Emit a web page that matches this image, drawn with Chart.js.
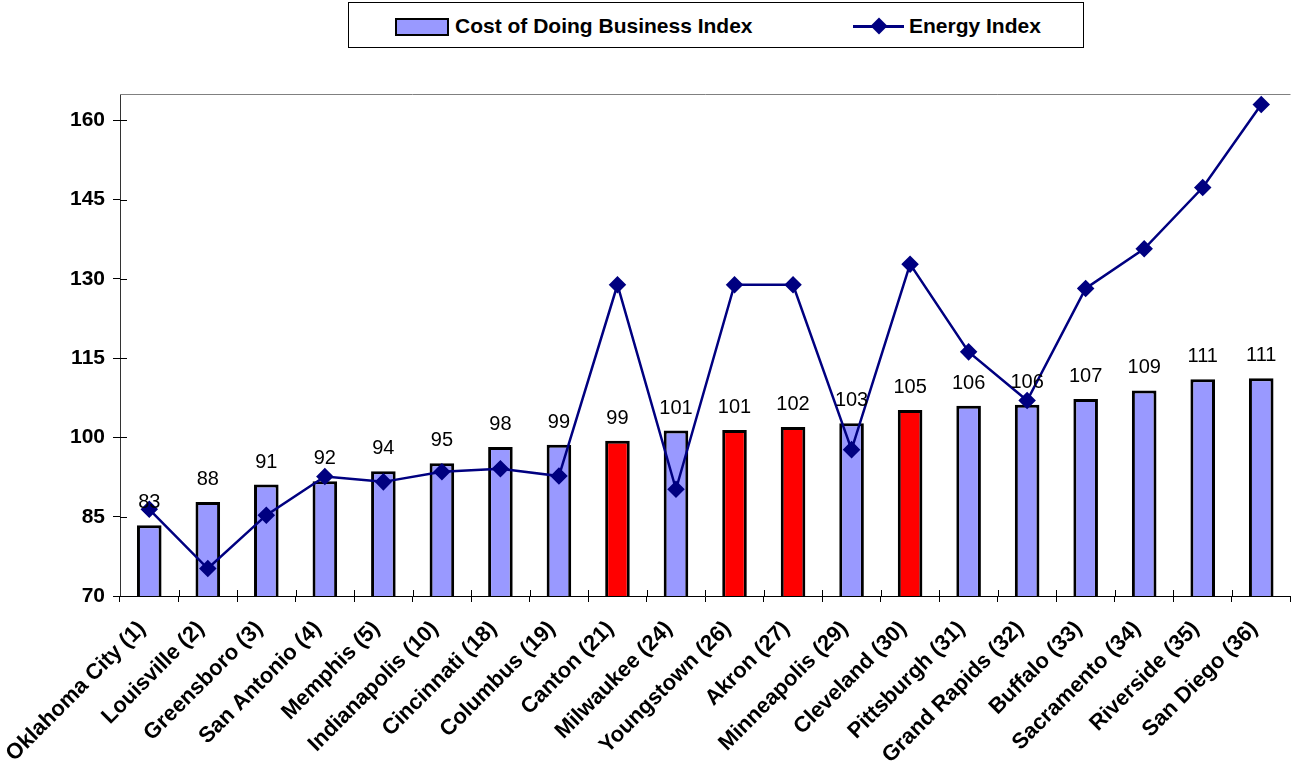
<!DOCTYPE html>
<html>
<head>
<meta charset="utf-8">
<title>Cost of Doing Business vs Energy Index</title>
<script src="https://cdn.jsdelivr.net/npm/chart.js@4.4.1/dist/chart.umd.min.js"></script>
<style>
  html, body { margin: 0; padding: 0; background: #fff; }
  #wrap { position: relative; width: 1300px; height: 761px; }
  #chart { position: absolute; left: 0; top: 0; }
  #legend {
    position: absolute; left: 348px; top: 2px; width: 736px; height: 46px;
    border: 1px solid #000; box-sizing: border-box; background: #fff;
    font-family: "Liberation Sans", Arial, sans-serif; font-weight: bold; font-size: 21px;
    color: #000;
  }
  .lg-swatch { position: absolute; left: 46px; top: 15px; width: 54px; height: 18px;
    box-sizing: border-box; border: 2px solid #000; background: #9999ff; }
  .lg-line { position: absolute; left: 504px; top: 22px; width: 51px; height: 3px; background: #000080; }
  .lg-diamond { position: absolute; left: 524px; top: 17px; width: 12px; height: 12px;
    background: #000080; transform: rotate(45deg); }
  .lg-text { position: absolute; top: 11px; line-height: 24px; white-space: nowrap; }
</style>
</head>
<body>
<div id="wrap">
  <canvas id="chart" width="1300" height="761"></canvas>
  <div id="legend">
    <div class="lg-swatch"></div>
    <div class="lg-text" style="left:106px">Cost of Doing Business Index</div>
    <div class="lg-line"></div>
    <div class="lg-diamond"></div>
    <div class="lg-text" style="left:560px">Energy Index</div>
  </div>
</div>
<script>
// ── Data ──────────────────────────────────────
const cities = [
  'Oklahoma City (1)', 'Louisville (2)', 'Greensboro (3)', 'San Antonio (4)', 'Memphis (5)',
  'Indianapolis (10)', 'Cincinnati (18)', 'Columbus (19)', 'Canton (21)', 'Milwaukee (24)',
  'Youngstown (26)', 'Akron (27)', 'Minneapolis (29)', 'Cleveland (30)', 'Pittsburgh (31)',
  'Grand Rapids (32)', 'Buffalo (33)', 'Sacramento (34)', 'Riverside (35)', 'San Diego (36)'
];
const costIndex = [
  83.4, 87.8, 91.1, 91.7, 93.6, 95.1, 98.2, 98.6, 99.4, 101.3,
  101.4, 102.0, 102.7, 105.2, 106.0, 106.2, 107.3, 108.9, 111.0, 111.2
];
const energyIndex = [
  86.4, 75.2, 85.3, 92.6, 91.6, 93.5, 94.1, 92.7, 128.9, 90.2,
  128.9, 128.9, 97.7, 132.8, 116.2, 107.0, 128.2, 135.7, 147.3, 163.0
];
const highlighted = ['Canton (21)', 'Youngstown (26)', 'Akron (27)', 'Cleveland (30)'];
const yTicks = [70, 85, 100, 115, 130, 145, 160];

const BAR_COLOR = '#9999ff';
const HIGHLIGHT_COLOR = '#ff0000';
const LINE_COLOR = '#000080';
const FONT = '"Liberation Sans", Arial, sans-serif';

// ── Plugins ───────────────────────────────────
// top border of the plot area and the inner half of the "cross" tick marks
const plotFrame = {
  id: 'plotFrame',
  beforeDatasetsDraw(chart) {
    const { ctx, chartArea: a, scales } = chart;
    ctx.save();
    ctx.strokeStyle = '#808080';
    ctx.lineWidth = 1;
    ctx.beginPath();
    ctx.moveTo(a.left, a.top + 0.5);
    ctx.lineTo(a.right, a.top + 0.5);
    ctx.stroke();

    ctx.strokeStyle = '#000';
    ctx.beginPath();
    yTicks.forEach(v => {
      const y = Math.round(scales.y.getPixelForValue(v)) + 0.5;
      ctx.moveTo(a.left, y);
      ctx.lineTo(a.left + 7, y);
    });
    for (let i = 1; i < cities.length; i++) {
      const x = Math.round((scales.x.getPixelForTick(i - 1) + scales.x.getPixelForTick(i)) / 2) + 0.5;
      ctx.moveTo(x, a.bottom);
      ctx.lineTo(x, a.bottom - 6);
    }
    ctx.stroke();
    ctx.restore();
  }
};

const barValueLabels = {
  id: 'barValueLabels',
  afterDatasetsDraw(chart) {
    const ctx = chart.ctx;
    const meta = chart.getDatasetMeta(0);
    ctx.save();
    ctx.font = `20px ${FONT}`;
    ctx.fillStyle = '#000';
    ctx.textAlign = 'center';
    ctx.textBaseline = 'alphabetic';
    meta.data.forEach((bar, i) => {
      ctx.fillText(String(Math.round(costIndex[i])), bar.x, bar.y - 17);
    });
    ctx.restore();
  }
};

// ── Chart ─────────────────────────────────────
new Chart(document.getElementById('chart').getContext('2d'), {
  type: 'bar',
  data: {
    labels: cities,
    datasets: [
      {
        type: 'bar',
        label: 'Cost of Doing Business Index',
        data: costIndex,
        backgroundColor: cities.map(c => highlighted.includes(c) ? HIGHLIGHT_COLOR : BAR_COLOR),
        borderColor: '#000',
        borderWidth: 3,
        borderSkipped: false,
        barPercentage: 0.42,
        categoryPercentage: 1,
        order: 1,
      },
      {
        type: 'line',
        label: 'Energy Index',
        data: energyIndex,
        borderColor: LINE_COLOR,
        backgroundColor: LINE_COLOR,
        borderWidth: 2.5,
        tension: 0,
        pointStyle: 'rectRot',
        pointRadius: 7,
        pointBackgroundColor: LINE_COLOR,
        pointBorderColor: LINE_COLOR,
        order: 0,
      }
    ]
  },
  options: {
    responsive: false,
    animation: false,
    devicePixelRatio: 1,
    layout: { padding: { top: 94, left: 0, right: 0, bottom: 0 } },
    plugins: {
      legend: { display: false },
      tooltip: { enabled: false }
    },
    scales: {
      x: {
        offset: true,
        grid: { offset: true, drawOnChartArea: false, drawTicks: true, tickLength: 6, color: '#000' },
        border: { color: '#000', width: 1 },
        ticks: {
          autoSkip: false, maxRotation: 45, minRotation: 45, padding: 14, labelOffset: -7,
          color: '#000', font: { family: FONT, size: 22, weight: 'bold' }
        },
        afterFit(s) { s.height = 165; s.paddingLeft = 0; s.paddingRight = 0; }
      },
      y: {
        min: 70, max: 165,
        grid: { drawOnChartArea: false, drawTicks: true, tickLength: 7, color: '#000' },
        border: { color: '#333', width: 1 },
        ticks: {
          padding: 8, color: '#000',
          font: { family: FONT, size: 21, weight: 'bold' }
        },
        afterBuildTicks(s) { s.ticks = yTicks.map(v => ({ value: v })); },
        afterFit(s) { s.width = 120; s.paddingTop = 0; s.paddingBottom = 0; }
      }
    }
  },
  plugins: [plotFrame, barValueLabels]
});
</script>
</body>
</html>
